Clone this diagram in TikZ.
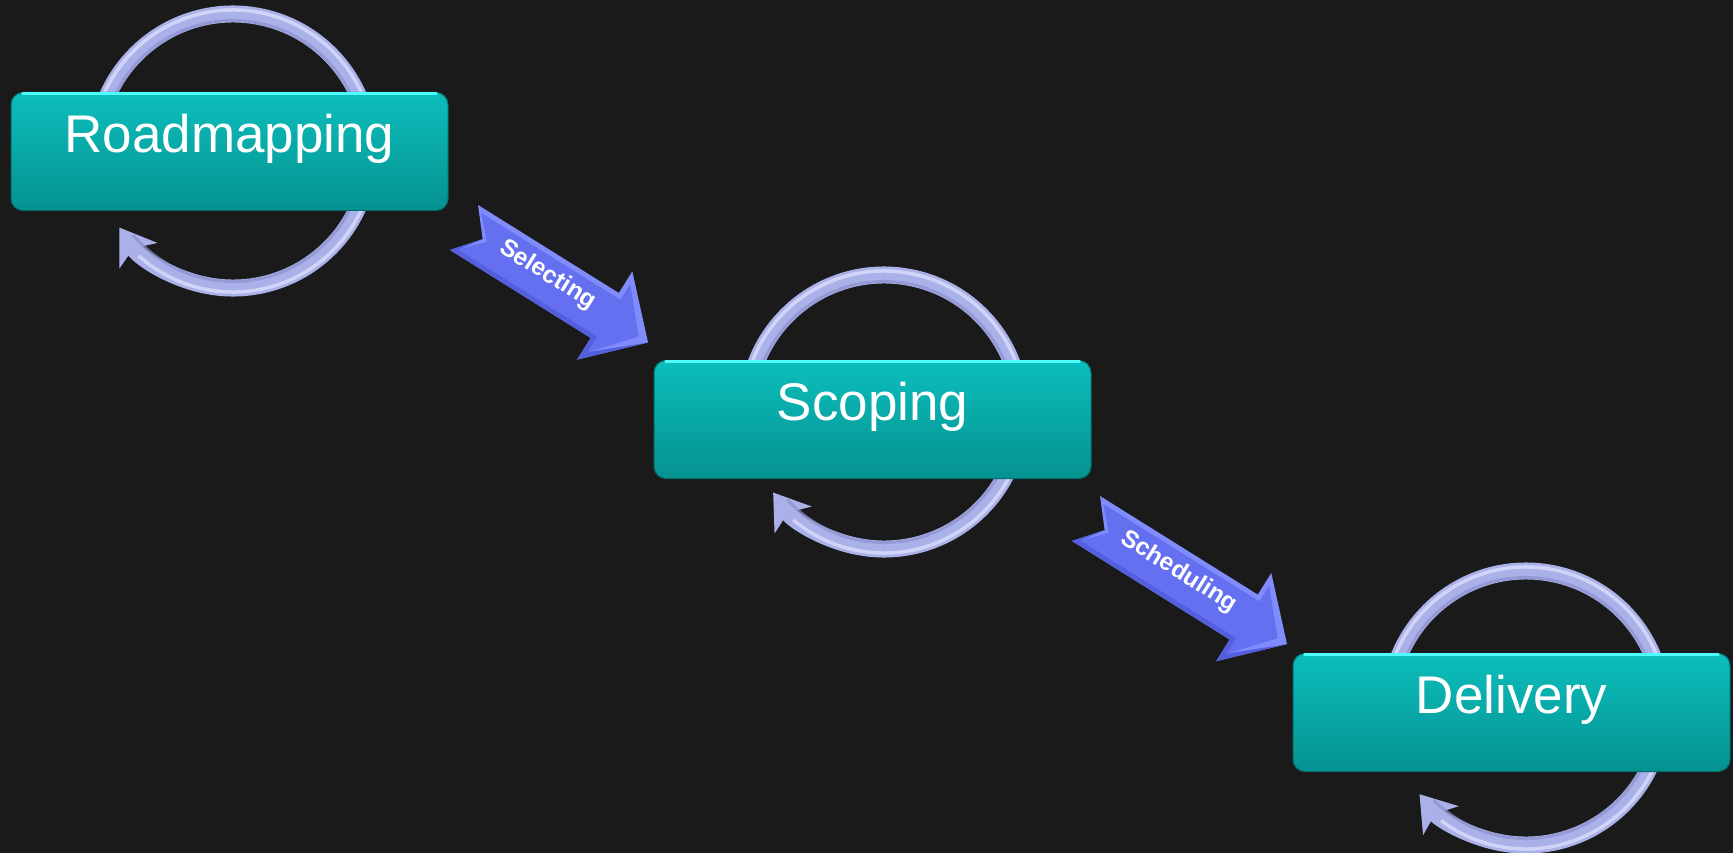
\documentclass[tikz,border=0pt]{standalone}
\usepackage{fontspec}
\setmainfont{Liberation Sans}
\usetikzlibrary{arrows.meta}
\definecolor{bg}{RGB}{26,26,26}
\definecolor{tealtop}{RGB}{12,190,188}
\definecolor{tealbot}{RGB}{5,146,144}
\definecolor{tealhi}{RGB}{80,252,252}
\definecolor{tealedge}{RGB}{4,110,110}
\definecolor{lavdark}{RGB}{140,146,205}
\definecolor{lav}{RGB}{170,176,232}
\definecolor{lavhi}{RGB}{226,228,255}
\definecolor{arrblue}{RGB}{100,112,240}
\definecolor{arrlight}{RGB}{128,140,252}
\definecolor{arrdark}{RGB}{84,95,222}
\tikzset{
  stage/.style={rounded corners=12pt, minimum width=437pt, minimum height=118pt,
    inner sep=0pt, text height=60pt, text depth=58pt,
    top color=tealtop, bottom color=tealbot, draw=tealedge, line width=1pt,
    text=white, font=\fontsize{53}{60}\selectfont},
  stagehi/.style={tealhi, line width=2.5pt, line cap=round},
  looparc/.style={lav, line width=17pt,
    -{Stealth[length=34pt,width=46pt,inset=9pt,line width=0pt]}},
  loopin/.style={lavdark, line width=3pt, opacity=0.7},
  loophi/.style={lavhi, line width=3.5pt, opacity=0.7},
  arrlabel/.style={text=white, font=\bfseries\fontsize{24.5}{28}\selectfont, inner sep=0pt}
}
\newcommand\cycleloop[4]{% name, cx, cy, end angle
  \coordinate (#1) at (#2,#3);
  \draw[looparc] (#1) ++(-170:137) arc[start angle=-170, end angle=#4, radius=137];
  \draw[loopin] (#1) ++(-170:130.5) arc[start angle=-170, end angle=#4-6, radius=130.5];
  \draw[loophi] (#1) ++(-170:141) arc[start angle=-170, end angle=#4-14, radius=141];
}
\newcommand\blockarrow[6]{% name, x, y, length, label u, label
  \begin{scope}[shift={(#2,#3)}, rotate=-32]
    \fill[arrlight] (0,-26.5) -- ({#4-51},-26.5) -- ({#4-51},-52) -- (#4,0)
      -- ({#4-51},52) -- ({#4-51},26.5) -- (0,26.5) -- (22,0) -- cycle;
    \fill[arrdark] (22,0) -- (0,26.5) -- ({#4-51},26.5) -- ({#4-51},52) -- (#4,0)
      -- ({#4-46},40) -- ({#4-46},21.5) -- (7,21.5) -- cycle;
    \fill[arrblue] (7,-21.5) -- ({#4-46},-21.5) -- ({#4-46},-40) -- ({#4-11},0)
      -- ({#4-46},40) -- ({#4-46},21.5) -- (7,21.5) -- (27,0) -- cycle;
    \node[arrlabel, rotate=-32] (#1) at (#5,-4) {#6};
  \end{scope}
}
\begin{document}
\begin{tikzpicture}[x=1pt, y=-1pt]
\useasboundingbox (0,0) rectangle (1733,853);
\fill[bg] (0,0) rectangle (1733,853);

% feedback loops (drawn under the boxes)
\cycleloop{loopR}{233}{151}{146}
\cycleloop{loopS}{884}{412}{144}
\cycleloop{loopD}{1526}{708}{141}

% stage boxes
\node[stage] (road) at (229.5,151.5) {Roadmapping};
\node[stage] (scope) at (872.5,419.5) {Scoping};
\node[stage] (deliv) at (1511.5,712.5) {Delivery};
\foreach \n in {road,scope,deliv}{
  \draw[stagehi] ([xshift=12pt,yshift=-1.5pt]\n.north west) -- ([xshift=-12pt,yshift=-1.5pt]\n.north east);
}

% block arrows between stages
\blockarrow{sel}{464}{227.5}{217}{96}{Selecting}
\blockarrow{sched}{1086}{518.5}{237}{107}{Scheduling}
\end{tikzpicture}
\end{document}
